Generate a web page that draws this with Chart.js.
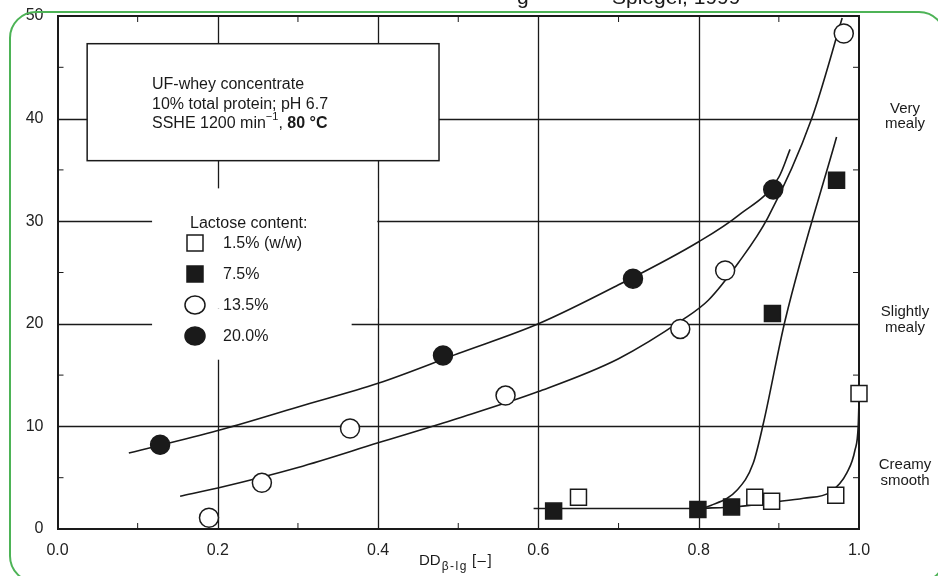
<!DOCTYPE html>
<html>
<head>
<meta charset="utf-8">
<script src="https://cdn.jsdelivr.net/npm/chart.js@4"></script>
<style>
  body { margin: 0; background: #fff; }
  #wrap { width: 938px; height: 576px; position: relative; }
</style>
</head>
<body>
<div id="wrap"><canvas id="myChart" width="938" height="576"></canvas></div>
<script>
// DATA
const seriesLabels = ['1.5% (w/w)', '7.5%', '13.5%', '20.0%'];
const xTicks = [0.0, 0.2, 0.4, 0.6, 0.8, 1.0];
const yTicks = [0, 10, 20, 30, 40, 50];

const lac15X = [0.650, 0.870, 0.891, 0.971, 1.0];
const lac15Y = [3.1, 3.1, 2.7, 3.3, 13.2];
const lac75X = [0.619, 0.799, 0.841, 0.892, 0.972];
const lac75Y = [1.75, 1.9, 2.15, 21.0, 34.0];
const lac135X = [0.189, 0.255, 0.365, 0.559, 0.777, 0.833, 0.981];
const lac135Y = [1.1, 4.5, 9.8, 13.0, 19.5, 25.2, 48.3];
const lac20X = [0.128, 0.481, 0.718, 0.893];
const lac20Y = [8.2, 16.9, 24.4, 33.1];

// hand drawn fit curves, traced
const fit15X = [0.8, 0.85, 0.89, 0.931, 0.964, 0.985, 0.995, 0.999, 1.0];
const fit15Y = [2.0, 2.2, 2.6, 3.0, 3.6, 5.5, 7.7, 10.0, 12.5];
const fit75X = [0.594, 0.8, 0.815, 0.848, 0.868, 0.881, 0.908, 0.972];
const fit75Y = [2.0, 2.0, 2.3, 3.8, 6.4, 10.4, 20.4, 38.2];
const fit135X = [0.153, 0.2, 0.3, 0.4, 0.5, 0.6, 0.7, 0.78, 0.812, 0.85, 0.886, 0.941, 0.979];
const fit135Y = [3.2, 4.0, 6.0, 8.4, 10.8, 13.4, 16.6, 20.4, 22.3, 26.0, 30.3, 40.0, 49.8];
const fit20X = [0.089, 0.2, 0.3, 0.4, 0.5, 0.6, 0.7, 0.8, 0.85, 0.9, 0.914];
const fit20Y = [7.4, 9.6, 11.9, 14.2, 17.1, 20.0, 23.8, 28.0, 30.6, 34.3, 37.0];

const FONT = '"Liberation Sans", Arial, Helvetica, sans-serif';
const INK = '#1a1a1a';

function pts(xs, ys) {
  return xs.map((x, i) => ({ x: x, y: ys[i] }));
}

function markerSet(label, xs, ys, style, fill) {
  return {
    label: label,
    data: pts(xs, ys),
    showLine: false,
    pointStyle: style,
    pointRadius: style === 'rect' ? 11.3 : 9.5,
    pointBackgroundColor: fill,
    pointBorderColor: INK,
    pointBorderWidth: 1.5,
    clip: false
  };
}

function curveSet(xs, ys) {
  return {
    label: 'fit',
    data: pts(xs, ys),
    showLine: true,
    pointRadius: 0,
    borderColor: INK,
    borderWidth: 1.6,
    cubicInterpolationMode: 'monotone',
    fill: false,
    clip: false
  };
}

// GRID WITH GAPS, ANNOTATION BOX, FRAME
const backdrop = {
  id: 'backdrop',
  beforeDatasetsDraw(chart) {
    const c = chart.ctx;
    const sx = chart.scales.x;
    const sy = chart.scales.y;
    const a = chart.chartArea;
    c.save();
    c.strokeStyle = INK;
    c.lineWidth = 1.3;
    [0.2, 0.4, 0.6, 0.8].forEach(v => {
      const px = Math.round(sx.getPixelForValue(v)) + 0.5;
      c.beginPath(); c.moveTo(px, a.top); c.lineTo(px, a.bottom); c.stroke();
    });
    [10, 20, 30, 40].forEach(v => {
      const py = Math.round(sy.getPixelForValue(v)) + 0.5;
      c.beginPath(); c.moveTo(a.left, py); c.lineTo(a.right, py); c.stroke();
    });
    // minor ticks
    c.lineWidth = 1;
    [5, 15, 25, 35, 45].forEach(v => {
      const py = sy.getPixelForValue(v);
      c.beginPath(); c.moveTo(a.left, py); c.lineTo(a.left + 6, py); c.stroke();
      c.beginPath(); c.moveTo(a.right - 6, py); c.lineTo(a.right, py); c.stroke();
    });
    [0.1, 0.3, 0.5, 0.7, 0.9].forEach(v => {
      const px = sx.getPixelForValue(v);
      c.beginPath(); c.moveTo(px, a.bottom); c.lineTo(px, a.bottom - 6); c.stroke();
      c.beginPath(); c.moveTo(px, a.top); c.lineTo(px, a.top + 6); c.stroke();
    });
    // white area behind the legend text
    c.fillStyle = '#fff';
    const l1 = sx.getPixelForValue(0.118);
    c.fillRect(l1, sy.getPixelForValue(33.2), sx.getPixelForValue(0.399) - l1, sy.getPixelForValue(21.5) - sy.getPixelForValue(33.2));
    c.fillRect(l1, sy.getPixelForValue(21.5), sx.getPixelForValue(0.367) - l1, sy.getPixelForValue(16.5) - sy.getPixelForValue(21.5));
    // annotation box
    const bx = sx.getPixelForValue(0.037), by = sy.getPixelForValue(47.3);
    const bw = sx.getPixelForValue(0.476) - bx, bh = sy.getPixelForValue(35.9) - by;
    c.fillRect(bx, by, bw, bh);
    c.lineWidth = 1.5;
    c.strokeRect(bx, by, bw, bh);
    c.fillStyle = INK;
    c.textBaseline = 'alphabetic';
    c.textAlign = 'left';
    c.font = '16px ' + FONT;
    c.fillText('UF-whey concentrate', 152, 89);
    c.fillText('10% total protein; pH 6.7', 152, 109);
    let t = 'SSHE 1200 min';
    c.fillText(t, 152, 128);
    let cx = 152 + c.measureText(t).width;
    c.font = '11px ' + FONT;
    c.fillText('\u22121', cx, 120);
    cx += c.measureText('\u22121').width;
    c.font = '16px ' + FONT;
    c.fillText(', ', cx, 128);
    cx += c.measureText(', ').width;
    c.font = 'bold 16px ' + FONT;
    c.fillText('80 \u00b0C', cx, 128);
    // top and right frame
    c.lineWidth = 2;
    c.beginPath();
    c.moveTo(a.left, a.top); c.lineTo(a.right, a.top); c.lineTo(a.right, a.bottom);
    c.stroke();
    c.restore();
  },
  afterDraw(chart) {
    const c = chart.ctx;
    c.save();
    c.fillStyle = INK;
    c.strokeStyle = INK;
    c.font = '16px ' + FONT;
    c.textAlign = 'left';
    c.textBaseline = 'middle';
    // LEGEND
    c.fillText('Lactose content:', 190, 224);
    const rows = [243, 274, 305, 336];
    const styles = ['rect', 'rect', 'circle', 'circle'];
    const fills = ['#fff', INK, '#fff', INK];
    rows.forEach((ry, i) => {
      c.fillStyle = fills[i];
      c.lineWidth = 1.5;
      c.beginPath();
      if (styles[i] === 'rect') c.rect(187, ry - 8, 16, 16);
      else c.ellipse(195, ry, 10, 9, 0, 0, Math.PI * 2);
      c.fill(); c.stroke();
      c.fillStyle = INK;
      c.fillText(seriesLabels[i], 223, ry + 1);
    });
    // RIGHT SIDE TEXTURE LABELS
    c.textAlign = 'center';
    c.font = '15px ' + FONT;
    [['Very', 109], ['mealy', 124], ['Slightly', 312], ['mealy', 328], ['Creamy', 465], ['smooth', 481]]
      .forEach(p => c.fillText(p[0], 905, p[1]));
    // X AXIS TITLE
    c.textAlign = 'left';
    c.textBaseline = 'alphabetic';
    c.font = '15px ' + FONT;
    let x = 419;
    c.fillText('DD', x, 565);
    x += c.measureText('DD').width + 1;
    c.font = '12px ' + FONT;
    c.letterSpacing = '1.5px';
    c.fillText('\u03b2-lg', x, 570);
    x += c.measureText('\u03b2-lg').width + 4;
    c.font = '15px ' + FONT;
    c.fillText('[\u2013]', x, 565);
    c.letterSpacing = '0px';
    // clipped caption at the very top
    c.font = '21px ' + FONT;
    c.fillText('g', 517, 4);
    c.fillText('Spiegel, 1999', 612, 4);
    // GREEN ROUNDED FRAME
    c.strokeStyle = '#4db356';
    c.lineWidth = 2;
    c.beginPath();
    c.roundRect(10, 12, 935, 570, 26);
    c.stroke();
    c.restore();
  }
};

const ctx = document.getElementById('myChart').getContext('2d');
const myChart = new Chart(ctx, {
  type: 'scatter',
  data: {
    datasets: [
      markerSet(seriesLabels[0], lac15X, lac15Y, 'rect', '#fff'),
      markerSet(seriesLabels[1], lac75X, lac75Y, 'rect', INK),
      markerSet(seriesLabels[2], lac135X, lac135Y, 'circle', '#fff'),
      markerSet(seriesLabels[3], lac20X, lac20Y, 'circle', INK),
      curveSet(fit15X, fit15Y),
      curveSet(fit75X, fit75Y),
      curveSet(fit135X, fit135Y),
      curveSet(fit20X, fit20Y)
    ]
  },
  options: {
    responsive: false,
    animation: false,
    layout: { padding: { left: 0, right: 79, top: 16, bottom: 0 } },
    plugins: { legend: { display: false }, tooltip: { enabled: false } },
    scales: {
      x: {
        type: 'linear', min: 0, max: 1,
        afterBuildTicks: s => { s.ticks = xTicks.map(v => ({ value: v })); },
        afterFit: s => { s.height = 47; },
        grid: { display: false },
        border: { display: true, color: INK, width: 2 },
        ticks: { padding: 4, color: '#222', font: { family: FONT, size: 16 }, callback: v => v.toFixed(1), maxRotation: 0 }
      },
      y: {
        min: 0, max: 50,
        afterBuildTicks: s => { s.ticks = yTicks.map(v => ({ value: v })); },
        afterFit: s => { s.width = 57.5; },
        grid: { display: false },
        border: { display: true, color: INK, width: 2 },
        ticks: { padding: 6, color: '#222', font: { family: FONT, size: 16 } }
      }
    }
  },
  plugins: [backdrop]
});
</script>
</body>
</html>
